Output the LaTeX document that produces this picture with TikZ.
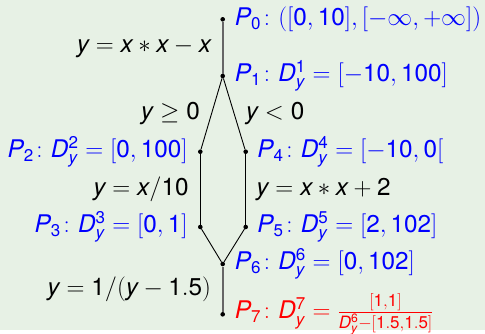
\documentclass[tikz,border=0pt]{standalone}
\usepackage{amsmath}
\usepackage[no-math]{fontspec}
\newfontfamily\herosfam[NFSSFamily=myheros]{TeX Gyre Heros}
\DeclareSymbolFont{sfop}{TU}{myheros}{m}{n}
\DeclareSymbolFont{sfit}{TU}{myheros}{m}{it}
\DeclareMathSymbol{x}{\mathalpha}{sfit}{`x}
\DeclareMathSymbol{y}{\mathalpha}{sfit}{`y}
\DeclareMathSymbol{D}{\mathalpha}{sfit}{`D}
\DeclareMathSymbol{P}{\mathalpha}{sfit}{`P}
\AtBeginDocument{%
  \Umathcode`0=0 \symsfop `0 \Umathcode`1=0 \symsfop `1
  \Umathcode`2=0 \symsfop `2 \Umathcode`3=0 \symsfop `3
  \Umathcode`4=0 \symsfop `4 \Umathcode`5=0 \symsfop `5
  \Umathcode`6=0 \symsfop `6 \Umathcode`7=0 \symsfop `7
  \Umathcode`8=0 \symsfop `8 \Umathcode`9=0 \symsfop `9 }
\definecolor{bgc}{RGB}{231,241,229}
\definecolor{lineg}{RGB}{102,102,102}
\begin{document}
\begin{tikzpicture}[x=1pt,y=1pt,
  dot/.style={circle,fill=black,inner sep=0pt,minimum size=4.6pt},
  thick edge/.style={draw=lineg,line width=2pt},
  thin edge/.style={draw=black,line width=0.9pt},
  lbl/.style={inner sep=0pt,font=\fontsize{24.3}{29}\selectfont},
  blbl/.style={lbl,text=blue},
  rlbl/.style={lbl,text=red}]
\useasboundingbox (0,0) rectangle (485,-333);
\fill[bgc] (0,0) rectangle (485,-330);
\node[dot] (P0) at (222.7,-19.3) {};
\node[dot] (P1) at (222.7,-76) {};
\node[dot] (P2) at (200.3,-151.7) {};
\node[dot] (P4) at (245.7,-151.7) {};
\node[dot] (P3) at (200.3,-227) {};
\node[dot] (P5) at (245.7,-227) {};
\node[dot] (P6) at (222.7,-264) {};
\node[dot] (P7) at (222.7,-314.3) {};
\path[thick edge] (P0) -- (P1);
\path[thin edge] (P1) -- (P2);
\path[thin edge] (P1) -- (P4);
\path[thin edge] (P2) -- (P3);
\path[thin edge] (P4) -- (P5);
\path[thin edge] (P3) -- (P6);
\path[thin edge] (P5) -- (P6);
\path[thick edge] (P6) -- (P7);
\node[blbl,anchor=west] (L0) at ([xshift=12pt]P0.center) {$P_0\colon([0,10],[-\infty,+\infty])$};
\node[blbl,anchor=west] (L1) at ([xshift=12pt]P1.center) {$P_1\colon D_y^1=[-10,100]$};
\node[blbl,anchor=east] (L2) at ([xshift=-12.5pt]P2.center) {$P_2\colon D_y^2=[0,100]$};
\node[blbl,anchor=west] (L4) at ([xshift=11.5pt]P4.center) {$P_4\colon D_y^4=[-10,0[$};
\node[blbl,anchor=east] (L3) at ([xshift=-12.5pt]P3.center) {$P_3\colon D_y^3=[0,1]$};
\node[blbl,anchor=west] (L5) at ([xshift=11.5pt]P5.center) {$P_5\colon D_y^5=[2,102]$};
\node[blbl,anchor=west] (L6) at ([xshift=12pt]P6.center) {$P_6\colon D_y^6=[0,102]$};
\node[rlbl,anchor=west] (L7) at ([xshift=12pt]P7.center) {$P_7\colon D_y^7=\frac{[1,1]}{D_y^6-[1.5,1.5]}$};
\path (P0) -- (P1) node[lbl,midway,anchor=east,xshift=-11.5pt] (E01) {$y=x*x-x$};
\path (P1) -- (P2) node[lbl,midway,anchor=east,xshift=-11.5pt] (E12) {$y\geq 0$};
\path (P1) -- (P4) node[lbl,midway,anchor=west,xshift=11.5pt] (E14) {$y<0$};
\path (P2) -- (P3) node[lbl,midway,anchor=east,xshift=-11.5pt] (E23) {$y=x/10$};
\path (P4) -- (P5) node[lbl,midway,anchor=west,xshift=10.5pt] (E45) {$y=x*x+2$};
\path (P6) -- (P7) node[lbl,midway,anchor=east,xshift=-11.5pt] (E67) {$y=1/(y-1.5)$};
\end{tikzpicture}
\end{document}
